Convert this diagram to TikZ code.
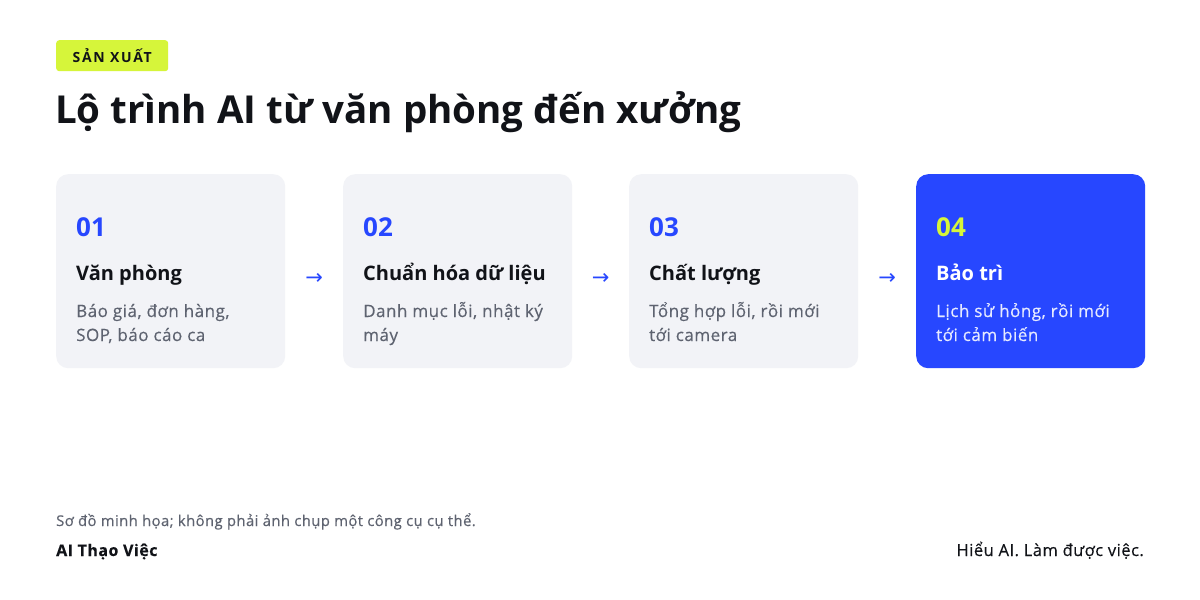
\documentclass[tikz,border=0pt]{standalone}
\usepackage{fontspec}
\usetikzlibrary{calc}
\setmainfont{Open Sans}
\newfontfamily\arrowfont{DejaVu Sans}
\newfontfamily\widefont[LetterSpace=3,FakeBold=0.4]{Open Sans}
\newfontfamily\tagfont[LetterSpace=12]{Open Sans}
\definecolor{ink}{HTML}{111318}
\definecolor{muted}{HTML}{5E6370}
\definecolor{cardbg}{HTML}{F2F3F7}
\definecolor{accent}{HTML}{2747FF}
\definecolor{lime}{HTML}{D6F53A}
\definecolor{softwhite}{HTML}{E6EAFF}
\tikzset{
  card/.style={rounded corners=12pt, fill=cardbg, draw=none, minimum width=229pt, minimum height=194pt, anchor=north west, inner sep=0pt},
  hotcard/.style={card, fill=accent},
  num/.style={anchor=base west, inner sep=0pt, font=\bfseries\fontsize{26}{30}\selectfont, text=accent},
  head/.style={anchor=base west, inner sep=0pt, font=\bfseries\fontsize{20}{24}\selectfont, text=ink},
  body/.style={anchor=base west, inner sep=0pt, font=\widefont\fontsize{17}{24}\selectfont, text=muted, align=left},
  arr/.style={inner sep=0pt, font=\arrowfont\fontsize{21}{24}\selectfont, text=accent},
}
\begin{document}
\begin{tikzpicture}[x=1pt,y=-1pt]
\fill[white] (0,0) rectangle (1200,600);
\useasboundingbox (0,0) rectangle (1200,600);
% tag
\node[fill=lime, rounded corners=3pt, minimum width=112pt, minimum height=31pt, anchor=north west, inner sep=0pt] (tag) at (56,40) {};
\node[inner sep=0pt, font=\tagfont\bfseries\fontsize{14}{16}\selectfont, text=ink] (tagtext) at (tag.center) {SẢN XUẤT};
% title
\node[anchor=base west, inner sep=0pt, font=\bfseries\fontsize{38.5}{44}\selectfont, text=ink] (title) at (55,123) {Lộ trình AI từ văn phòng đến xưởng};
% cards
\node[card] (c1) at (56,174) {};
\node[card] (c2) at (343,174) {};
\node[card] (c3) at (629,174) {};
\node[hotcard] (c4) at (916,174) {};
% card 1
\node[num] (n1) at (76,236) {01};
\node[head] (h1) at (76,280) {Văn phòng};
\node[body] (b1) at (76,317) {Báo giá, đơn hàng,};
\node[body] (b1b) at (76,341) {SOP, báo cáo ca};
% card 2
\node[num] (n2) at (363,236) {02};
\node[head] (h2) at (363,280) {Chuẩn hóa dữ liệu};
\node[body] (b2) at (363,317) {Danh mục lỗi, nhật ký};
\node[body] (b2b) at (363,341) {máy};
% card 3
\node[num] (n3) at (649,236) {03};
\node[head] (h3) at (649,280) {Chất lượng};
\node[body] (b3) at (649,317) {Tổng hợp lỗi, rồi mới};
\node[body] (b3b) at (649,341) {tới camera};
% card 4
\node[num, text=lime] (n4) at (936,236) {04};
\node[head, text=white] (h4) at (936,280) {Bảo trì};
\node[body, text=softwhite] (b4) at (936,317) {Lịch sử hỏng, rồi mới};
\node[body, text=softwhite] (b4b) at (936,341) {tới cảm biến};
% arrows
\node[arr] (a1) at ($(c1.east)!0.5!(c2.west)+(0,8)$) {→};
\node[arr] (a2) at ($(c2.east)!0.5!(c3.west)+(0,8)$) {→};
\node[arr] (a3) at ($(c3.east)!0.5!(c4.west)+(0,8)$) {→};
% footer
\node[anchor=base west, inner sep=0pt, font=\widefont\fontsize{14.8}{16}\selectfont, text=muted] (note) at (56,526) {Sơ đồ minh họa; không phải ảnh chụp một công cụ cụ thể.};
\node[anchor=base west, inner sep=0pt, font=\widefont\bfseries\fontsize{16}{18}\selectfont, text=ink] (brand) at (56,556) {AI Thạo Việc};
\node[anchor=base east, inner sep=0pt, font=\widefont\fontsize{16.5}{18}\selectfont, text=ink] (slogan) at (1144,556) {Hiểu AI. Làm được việc.};
\end{tikzpicture}
\end{document}
